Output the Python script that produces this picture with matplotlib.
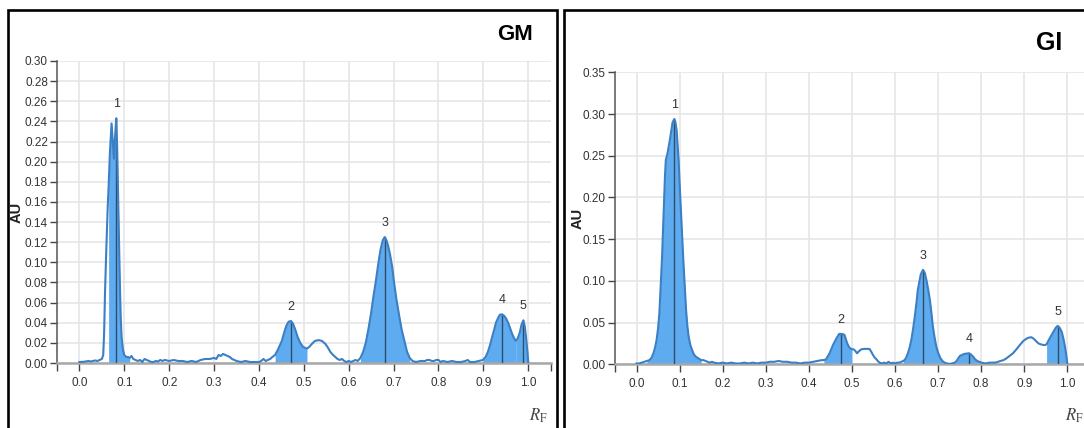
import numpy as np
import matplotlib
matplotlib.use("Agg")
import matplotlib.pyplot as plt
from matplotlib import font_manager
from matplotlib.lines import Line2D

# ---------------- data ----------------
gm_rf = [0.000, 0.010, 0.020, 0.025, 0.030, 0.035, 0.040, 0.045, 0.050, 0.053, 0.055, 0.057,
         0.060, 0.063, 0.065, 0.068, 0.0716, 0.074, 0.0768, 0.079, 0.082, 0.084, 0.086, 0.088,
         0.090, 0.092, 0.094, 0.097, 0.100, 0.104, 0.108, 0.112, 0.116, 0.120, 0.125, 0.130,
         0.135, 0.140, 0.145, 0.150, 0.155, 0.160, 0.165, 0.170, 0.175, 0.180, 0.185, 0.190,
         0.200, 0.210, 0.220, 0.230, 0.240, 0.250, 0.260, 0.270, 0.280, 0.290, 0.300, 0.305,
         0.310, 0.315, 0.320, 0.325, 0.330, 0.335, 0.340, 0.350, 0.360, 0.370, 0.380, 0.390,
         0.400, 0.405, 0.410, 0.415, 0.420, 0.425, 0.430, 0.436, 0.443, 0.451, 0.456, 0.461,
         0.466, 0.471, 0.476, 0.481, 0.486, 0.492, 0.498, 0.507, 0.512, 0.518, 0.525, 0.533,
         0.540, 0.548, 0.554, 0.559, 0.565, 0.570, 0.575, 0.580, 0.585, 0.590, 0.595, 0.600,
         0.605, 0.610, 0.615, 0.620, 0.626, 0.632, 0.638, 0.644, 0.650, 0.655, 0.660, 0.666,
         0.671, 0.676, 0.680, 0.684, 0.688, 0.692, 0.697, 0.701, 0.706, 0.712, 0.718, 0.725,
         0.730, 0.736, 0.742, 0.750, 0.760, 0.770, 0.775, 0.780, 0.785, 0.790, 0.795, 0.800,
         0.805, 0.810, 0.820, 0.830, 0.840, 0.850, 0.860, 0.865, 0.870, 0.880, 0.890, 0.899,
         0.905, 0.910, 0.915, 0.919, 0.924, 0.928, 0.933, 0.937, 0.941, 0.946, 0.951, 0.956,
         0.960, 0.964, 0.968, 0.972, 0.976, 0.981, 0.985, 0.989, 0.992, 0.995, 0.998, 1.000]
gm_au = [0.001, 0.0012, 0.002, 0.0015, 0.002, 0.0025, 0.002, 0.003, 0.004, 0.008, 0.030, 0.070,
         0.115, 0.155, 0.175, 0.210, 0.238, 0.222, 0.203, 0.222, 0.243, 0.215, 0.170, 0.125,
         0.080, 0.045, 0.025, 0.013, 0.008, 0.006, 0.006, 0.005, 0.007, 0.004, 0.003, 0.002,
         0.003, 0.001, 0.004, 0.003, 0.002, 0.001, 0.001, 0.002, 0.0015, 0.003, 0.002, 0.003,
         0.002, 0.003, 0.002, 0.002, 0.001, 0.002, 0.001, 0.003, 0.004, 0.004, 0.005, 0.004,
         0.008, 0.007, 0.009, 0.008, 0.007, 0.006, 0.004, 0.002, 0.001, 0.002, 0.001, 0.001,
         0.001, 0.002, 0.004, 0.002, 0.003, 0.004, 0.006, 0.008, 0.014, 0.022, 0.030, 0.037,
         0.041, 0.0417, 0.039, 0.033, 0.026, 0.020, 0.016, 0.0143, 0.016, 0.019, 0.022, 0.0227,
         0.022, 0.019, 0.015, 0.011, 0.008, 0.006, 0.004, 0.003, 0.004, 0.002, 0.001, 0.002,
         0.001, 0.002, 0.003, 0.002, 0.005, 0.011, 0.020, 0.034, 0.050, 0.066, 0.080, 0.099,
         0.113, 0.122, 0.125, 0.122, 0.116, 0.108, 0.095, 0.080, 0.064, 0.048, 0.033, 0.020,
         0.011, 0.005, 0.002, 0.001, 0.002, 0.002, 0.003, 0.003, 0.002, 0.002, 0.003, 0.003,
         0.001, 0.002, 0.001, 0.002, 0.001, 0.001, 0.002, 0.003, 0.001, 0.001, 0.002, 0.003,
         0.006, 0.011, 0.018, 0.025, 0.033, 0.040, 0.045, 0.048, 0.0483, 0.047, 0.044, 0.039,
         0.034, 0.029, 0.025, 0.022, 0.024, 0.030, 0.038, 0.0423, 0.037, 0.026, 0.012, 0.001]
gm_peak_rf = [0.082, 0.471, 0.680, 0.941, 0.989]
gm_fill = [(0.065, 0.112), (0.436, 0.507), (0.622, 0.736), (0.899, 0.972), (0.972, 1.0)]

gi_rf = [0.000, 0.006, 0.012, 0.018, 0.024, 0.030, 0.035, 0.039, 0.043, 0.0465, 0.050, 0.053,
         0.056, 0.059, 0.0615, 0.0637, 0.066, 0.068, 0.070, 0.072, 0.075, 0.0777, 0.081, 0.0837,
         0.0877, 0.090, 0.093, 0.095, 0.0977, 0.100, 0.103, 0.106, 0.1086, 0.112, 0.115, 0.118,
         0.121, 0.125, 0.129, 0.133, 0.138, 0.144, 0.150, 0.155, 0.160, 0.165, 0.170, 0.175,
         0.180, 0.190, 0.200, 0.210, 0.220, 0.230, 0.240, 0.250, 0.260, 0.270, 0.280, 0.290,
         0.300, 0.310, 0.320, 0.330, 0.340, 0.350, 0.360, 0.370, 0.380, 0.390, 0.400, 0.410,
         0.420, 0.430, 0.435, 0.440, 0.448, 0.456, 0.464, 0.4705, 0.4753, 0.480, 0.483, 0.486,
         0.489, 0.493, 0.496, 0.500, 0.504, 0.508, 0.512, 0.517, 0.522, 0.530, 0.537, 0.541,
         0.545, 0.549, 0.553, 0.557, 0.560, 0.564, 0.570, 0.575, 0.580, 0.585, 0.590, 0.595,
         0.600, 0.605, 0.610, 0.615, 0.619, 0.6225, 0.626, 0.630, 0.634, 0.638, 0.642, 0.646,
         0.650, 0.653, 0.657, 0.660, 0.665, 0.669, 0.673, 0.677, 0.681, 0.685, 0.688, 0.692,
         0.696, 0.700, 0.7056, 0.712, 0.7156, 0.720, 0.727, 0.733, 0.739, 0.743, 0.7505, 0.7605,
         0.7714, 0.776, 0.7814, 0.786, 0.791, 0.796, 0.801, 0.810, 0.820, 0.830, 0.836, 0.845,
         0.852, 0.859, 0.866, 0.874, 0.882, 0.890, 0.898, 0.9055, 0.911, 0.917, 0.921, 0.925,
         0.9325, 0.938, 0.944, 0.948, 0.952, 0.958, 0.9637, 0.969, 0.9735, 0.9777, 0.982, 0.987,
         0.991, 0.9947, 0.998, 1.000]
gi_au = [0.001, 0.001, 0.002, 0.003, 0.004, 0.005, 0.008, 0.013, 0.020, 0.029, 0.043, 0.061,
         0.092, 0.125, 0.162, 0.197, 0.225, 0.245, 0.249, 0.253, 0.262, 0.270, 0.281, 0.290,
         0.294, 0.291, 0.281, 0.266, 0.245, 0.217, 0.185, 0.152, 0.125, 0.093, 0.065, 0.046,
         0.033, 0.023, 0.017, 0.012, 0.009, 0.007, 0.005, 0.005, 0.004, 0.003, 0.002, 0.003,
         0.002, 0.001, 0.002, 0.001, 0.002, 0.001, 0.001, 0.002, 0.001, 0.002, 0.001, 0.002,
         0.002, 0.003, 0.003, 0.004, 0.003, 0.003, 0.002, 0.002, 0.001, 0.002, 0.002, 0.003,
         0.004, 0.005, 0.005, 0.006, 0.013, 0.023, 0.031, 0.0364, 0.0365, 0.036, 0.035, 0.030,
         0.0252, 0.021, 0.0192, 0.018, 0.018, 0.016, 0.0132, 0.016, 0.018, 0.0185, 0.0185, 0.0184,
         0.015, 0.0112, 0.008, 0.006, 0.004, 0.002, 0.001, 0.002, 0.001, 0.003, 0.001, 0.002,
         0.001, 0.002, 0.002, 0.003, 0.004, 0.0052, 0.008, 0.0132, 0.020, 0.0292, 0.042, 0.0572,
         0.074, 0.0892, 0.100, 0.108, 0.1132, 0.110, 0.101, 0.090, 0.0772, 0.060, 0.0452, 0.032,
         0.0212, 0.014, 0.0072, 0.003, 0.002, 0.001, 0.0005, 0.001, 0.002, 0.004, 0.010, 0.0124,
         0.0132, 0.012, 0.0092, 0.006, 0.004, 0.003, 0.002, 0.001, 0.002, 0.002, 0.0024, 0.004,
         0.005, 0.0072, 0.010, 0.0132, 0.018, 0.0232, 0.028, 0.0308, 0.032, 0.0324, 0.031, 0.0292,
         0.0252, 0.024, 0.0232, 0.023, 0.024, 0.030, 0.0352, 0.040, 0.044, 0.046, 0.044, 0.0392,
         0.031, 0.0212, 0.010, 0.001]
gi_peak_rf = [0.0877, 0.4753, 0.665, 0.7714, 0.9777]
gi_fill = [(0.02, 0.150), (0.435, 0.500), (0.619, 0.712), (0.739, 0.801), (0.952, 1.0)]

peak_labels = ["1", "2", "3", "4", "5"]
x_ticks = [0.0, 0.1, 0.2, 0.3, 0.4, 0.5, 0.6, 0.7, 0.8, 0.9, 1.0]
gm_y_ticks = [0.00, 0.02, 0.04, 0.06, 0.08, 0.10, 0.12, 0.14, 0.16, 0.18, 0.20, 0.22, 0.24,
              0.26, 0.28, 0.30]
gi_y_ticks = [0.00, 0.05, 0.10, 0.15, 0.20, 0.25, 0.30, 0.35]

# ---------------- style ----------------
names = {f.name for f in font_manager.fontManager.ttflist}
NARROW = 'Liberation Sans Narrow' if 'Liberation Sans Narrow' in names else 'Liberation Sans'
plt.rcParams['font.family'] = [NARROW, 'DejaVu Sans']
plt.rcParams['mathtext.fontset'] = 'stix'

W, H = 1084, 428
fig = plt.figure(figsize=(W / 100, H / 100), dpi=100)

LINE_C = '#3b7fc4'
FILL_C = '#5eabf0'
PEAK_C = '#2e4d6b'
GRID_C = '#e6e6e6'
TEXT_C = '#333333'


def px(x0, y0, x1, y1):
    return [x0 / W, 1 - y1 / H, (x1 - x0) / W, (y1 - y0) / H]


def draw(ax, rf, au, peaks, fills, yticks, ymax, ylabel_fmt):
    rf = np.asarray(rf)
    au = np.asarray(au)
    ax.set_xlim(-0.05, 1.05)
    ax.set_ylim(0, ymax)
    ax.set_xticks(x_ticks)
    ax.set_xticklabels([f"{t:.1f}" for t in x_ticks])
    ax.set_xticks([-0.05, 1.05], minor=True)
    ax.set_yticks(yticks)
    ax.set_yticklabels([ylabel_fmt.format(t) for t in yticks])
    ax.grid(True, color=GRID_C, lw=1.2, zorder=0)
    for s in ['top', 'right']:
        ax.spines[s].set_visible(False)
    ax.spines['left'].set_color('#555555')
    ax.spines['left'].set_linewidth(1.1)
    ax.spines['bottom'].set_color('#a8a8a8')
    ax.spines['bottom'].set_linewidth(1.8)
    ax.tick_params(axis='x', which='both', direction='out', length=6, width=1.0,
                   color='#444444', labelsize=8.5, labelcolor=TEXT_C, pad=4)
    ax.tick_params(axis='y', direction='out', length=5, width=1.0,
                   color='#444444', labelsize=8.5, labelcolor=TEXT_C, pad=1.5)
    for a, b in fills:
        m = (rf >= a - 1e-9) & (rf <= b + 1e-9)
        ax.fill_between(rf, 0, au, where=m, color=FILL_C, lw=0, zorder=2)
    ax.plot(rf, au, color=LINE_C, lw=1.5, zorder=4, solid_joinstyle='round')
    for lab, p in zip(peak_labels, peaks):
        h = np.interp(p, rf, au)
        ax.plot([p, p], [0, h], color=PEAK_C, lw=1.0, zorder=3)
        ax.annotate(lab, (p, h), xytext=(0, 6), textcoords='offset points',
                    ha='center', va='bottom', fontsize=9, color=TEXT_C, zorder=5)


ax1 = fig.add_axes(px(57, 61, 550.7, 363))
draw(ax1, gm_rf, gm_au, gm_peak_rf, gm_fill, gm_y_ticks, 0.30, "{:.2f}")
ax2 = fig.add_axes(px(615, 72.3, 1088.8, 364.3))
draw(ax2, gi_rf, gi_au, gi_peak_rf, gi_fill, gi_y_ticks, 0.35, "{:.2f}")

# axis labels / titles
fig.text(17 / W, 1 - 212 / H, "AU", rotation=90, ha='center', va='center',
         fontsize=10.5, fontweight='bold', color='#222222', family=['Liberation Sans'])
fig.text(578 / W, 1 - 218 / H, "AU", rotation=90, ha='center', va='center',
         fontsize=10.5, fontweight='bold', color='#222222', family=['Liberation Sans'])
fig.text(515 / W, 1 - 34.5 / H, "GM", ha='center', va='center', fontsize=16,
         fontweight='bold', color='black')
fig.text(1049 / W, 1 - 43 / H, "GI", ha='center', va='center', fontsize=18,
         fontweight='bold', color='black')
fig.text(538 / W, 1 - 416 / H, r"$\mathit{R}_{\mathrm{F}}$", ha='center', va='center',
         fontsize=12, color='#444444')
fig.text(1074 / W, 1 - 416 / H, r"$\mathit{R}_{\mathrm{F}}$", ha='center', va='center',
         fontsize=12, color='#444444')

# panel frames
def fline(xs, ys):
    fig.add_artist(Line2D([x / W for x in xs], [1 - y / H for y in ys],
                          color='black', lw=1.9, transform=fig.transFigure,
                          solid_joinstyle='miter'))

fline([8, 8, 556.5, 556.5], [440, 10, 10, 440])
fline([564, 564, 1100], [440, 10, 10])

fig.savefig("out.png", dpi=100, facecolor='white')
